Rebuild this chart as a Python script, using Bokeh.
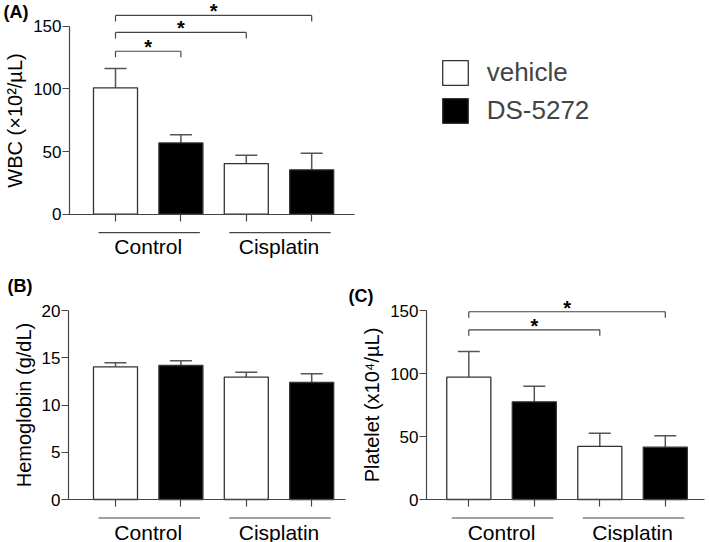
from bokeh.plotting import figure
from bokeh.models import ColumnDataSource, Whisker, TeeHead, FixedTicker, Legend, LegendItem, Range1d
from bokeh.layouts import column, row
from bokeh.core.properties import value
from bokeh.embed import file_html
from bokeh.resources import INLINE

# ---------------- data ----------------
groups = ["Control", "Cisplatin"]
treatments = ["vehicle", "DS-5272"]

wbc_vehicle = [100.8, 40.4]
wbc_vehicle_err = [15.4, 6.7]
wbc_ds = [56.9, 35.4]
wbc_ds_err = [6.4, 13.3]

hgb_vehicle = [14.04, 12.95]
hgb_vehicle_err = [0.42, 0.52]
hgb_ds = [14.18, 12.38]
hgb_ds_err = [0.49, 0.92]

plt_vehicle = [97.1, 42.1]
plt_vehicle_err = [20.4, 10.5]
plt_ds = [77.5, 41.5]
plt_ds_err = [12.4, 9.0]

wbc_ticks = [0, 50, 100, 150]
hgb_ticks = [0, 5, 10, 15, 20]
plt_ticks = [0, 50, 100, 150]

# significance brackets: (bar index from, bar index to, bracket level)
wbc_sig = [(0, 1, 130), (0, 2, 145), (0, 3, 158.6)]
plt_sig = [(0, 2, 134.7), (0, 3, 149)]

# ---------------- style / layout ----------------
FONT = "Liberation Sans"
AXC = "#454545"
BAR_LINE = "#333333"
ERR = "#555555"
BW = 0.673


def bar_x(g, t):
    return 1 + 2 * g + t


def make_panel(fig_box, calib, axis_x, axis_end, veh, veh_err, ds, ds_err, ticks,
               ylabel, tag, tag_pos, sig=None, legend_pos=None):
    fx0, fy0, fx1, fy1 = fig_box
    x1, dx, y0, dy = calib
    W = fx1 - fx0
    H = fy1 - fy0

    def xd_(px):
        return 1 + (px - x1) / dx

    def yd_(py):
        return (y0 - py) / dy

    p = figure(width=W, height=H, output_backend="svg", toolbar_location=None,
               x_range=Range1d(xd_(fx0), xd_(fx1)), y_range=Range1d(yd_(fy1), yd_(fy0)),
               min_border_left=0, min_border_right=0,
               min_border_top=0, min_border_bottom=0)
    p.outline_line_color = None
    p.xgrid.visible = False
    p.ygrid.visible = False
    p.background_fill_color = None
    p.border_fill_color = None

    xv = [bar_x(g, 0) for g in range(len(groups))]
    xd = [bar_x(g, 1) for g in range(len(groups))]
    rv = p.vbar(x=xv, top=veh, width=BW, bottom=0, fill_color="white",
                line_color=BAR_LINE, line_width=1.3)
    rd = p.vbar(x=xd, top=ds, width=BW, bottom=0, fill_color="black",
                line_color=BAR_LINE, line_width=1.3)

    xs_all = xv + xd
    lows = list(veh) + list(ds)
    ups = [m + e for m, e in zip(list(veh) + list(ds), list(veh_err) + list(ds_err))]
    src = ColumnDataSource(dict(x=xs_all, lower=lows, upper=ups))
    w = Whisker(base="x", lower="lower", upper="upper", source=src,
                line_color=ERR, line_width=1.5, lower_head=None,
                upper_head=TeeHead(size=22, line_color=ERR, line_width=1.5))
    p.add_layout(w)

    # x axis (fixed at y = 0)
    xax = p.xaxis[0]
    xax.fixed_location = 0
    xax.ticker = FixedTicker(ticks=sorted(xs_all))
    xax.major_label_overrides = {x: "" for x in xs_all}
    xax.major_tick_in = 0
    xax.major_tick_out = 7
    xax.minor_tick_line_color = None
    xax.axis_line_color = AXC
    xax.major_tick_line_color = AXC
    xax.axis_line_width = 1.2
    xax.major_tick_line_width = 1.2
    xax.bounds = (xd_(axis_x), xd_(axis_end))

    # y axis (fixed at the left end of the x axis)
    yax = p.yaxis[0]
    yax.fixed_location = xd_(axis_x)
    yax.ticker = FixedTicker(ticks=ticks)
    yax.bounds = (ticks[0], ticks[-1])
    yax.major_tick_in = 0
    yax.major_tick_out = 7
    yax.minor_tick_line_color = None
    yax.axis_line_color = AXC
    yax.major_tick_line_color = AXC
    yax.axis_line_width = 1.2
    yax.major_tick_line_width = 1.2
    yax.major_label_text_font = FONT
    yax.major_label_text_font_size = "17px"
    yax.major_label_text_color = "black"
    yax.major_label_standoff = 1
    yax.axis_label = ylabel
    yax.axis_label_text_font = FONT
    yax.axis_label_text_font_size = "20px"
    yax.axis_label_text_font_style = "normal"
    yax.axis_label_text_color = "black"
    yax.axis_label_standoff = 4

    # group underlines + labels
    gl_y = -18.5 / dy
    lab_y = -32.5 / dy
    gcx = [(bar_x(g, 0) + bar_x(g, 1)) / 2 for g in range(len(groups))]
    p.segment(x0=[c - 0.76 for c in gcx], x1=[c + 0.79 for c in gcx],
              y0=[gl_y] * len(gcx), y1=[gl_y] * len(gcx), line_color=AXC, line_width=1.2)
    p.text(x=gcx, y=[lab_y] * len(gcx), text=groups, text_align="center",
           text_baseline="middle", text_font=value(FONT), text_font_size="21px",
           text_color="black")

    # significance brackets
    if sig:
        allx = [bar_x(0, 0), bar_x(0, 1), bar_x(1, 0), bar_x(1, 1)]
        tick = 6.0 / dy
        bx0 = [allx[a] for a, b, lv in sig]
        bx1 = [allx[b] for a, b, lv in sig]
        lv = [s[2] for s in sig]
        p.segment(x0=bx0, x1=bx1, y0=lv, y1=lv, line_color=AXC, line_width=1.2)
        p.segment(x0=bx0, x1=bx0, y0=[v - tick for v in lv], y1=lv, line_color=AXC, line_width=1.2)
        p.segment(x0=bx1, x1=bx1, y0=[v - tick for v in lv], y1=lv, line_color=AXC, line_width=1.2)
        p.text(x=[(a + b) / 2 for a, b in zip(bx0, bx1)], y=lv, text=["*"] * len(lv),
               text_align="center", text_baseline="alphabetic", y_offset=-4,
               text_font=value(FONT), text_font_size="20px", text_font_style="bold",
               text_color="black")

    # panel tag
    tx, ty = tag_pos
    p.text(x=[xd_(tx)], y=[yd_(ty)], text=[tag], text_align="left", text_baseline="top",
           text_font=value(FONT), text_font_size="18px", text_font_style="bold",
           text_color="black")

    if legend_pos is not None:
        lx, ly = legend_pos
        leg = Legend(items=[LegendItem(label=treatments[0], renderers=[rv]),
                            LegendItem(label=treatments[1], renderers=[rd])],
                     location=(lx - fx0, fy1 - ly),
                     label_text_font=FONT, label_text_font_size="26px",
                     glyph_width=32, glyph_height=31, label_standoff=16,
                     spacing=7, padding=0, margin=0, border_line_color=None,
                     background_fill_alpha=0)
        p.add_layout(leg)
    return p


pA = make_panel((0, 0, 709, 272), (115, 65.4, 213.7, 1.2533), 69, 354,
                wbc_vehicle, wbc_vehicle_err, wbc_ds, wbc_ds_err, wbc_ticks,
                "WBC (×10²/µL)", "(A)", (3, 1), sig=wbc_sig,
                legend_pos=(438.7, 125.7))
pB = make_panel((0, 272, 346, 542), (115, 65.4, 499, 9.45), 68, 345,
                hgb_vehicle, hgb_vehicle_err, hgb_ds, hgb_ds_err, hgb_ticks,
                "Hemoglobin (g/dL)", "(B)", (7, 275))
pC = make_panel((346, 272, 709, 542), (468.3, 65.5, 499, 1.26), 426, 704,
                plt_vehicle, plt_vehicle_err, plt_ds, plt_ds_err, plt_ticks,
                "Platelet (x10⁴/µL)", "(C)", (348, 285), sig=plt_sig)

layout = column(pA, row(pB, pC, spacing=0), spacing=0)
open("out.html", "w").write(file_html(layout, INLINE))
